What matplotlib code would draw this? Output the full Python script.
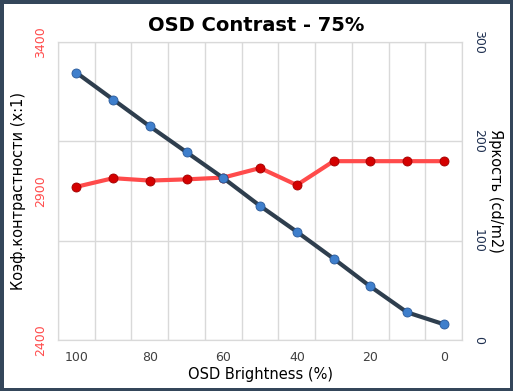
import numpy as np
import matplotlib
matplotlib.use("Agg")
import matplotlib.pyplot as plt

# OSD brightness settings (x axis, categories)
brightness_pct = ["100", "90", "80", "70", "60", "50", "40", "30", "20", "10", "0"]
# contrast ratio, left axis
contrast = [2914, 2943, 2935, 2939, 2945, 2977, 2920, 3000, 3000, 3000, 3000]
# luminance cd/m2, right axis
luminance = [269, 242, 215, 189, 163, 135, 109, 82, 54, 28, 16]

plt.rcParams['font.family'] = ['DejaVu Sans']

fig = plt.figure(figsize=(5.13, 3.91), dpi=100, linewidth=5, edgecolor='#34465a')
ax = fig.add_axes([0.113, 0.130, 0.788, 0.763])
ax2 = ax.twinx()

x = np.arange(len(brightness_pct))

ax.plot(x, contrast, color='#ff4b4b', lw=3, marker='o', ms=6.5,
        mfc='#d40000', mec='#a00000', mew=0.6, zorder=3)
ax2.plot(x, luminance, color='#2e3e4e', lw=3, marker='o', ms=6.5,
         mfc='#3f7fcc', mec='#2a5a9a', mew=0.6, zorder=3)

ax.set_xlim(-0.5, len(x) - 0.5)
ax.set_ylim(2400, 3400)
ax2.set_ylim(0, 300)

ax.set_yticks([2400, 2900, 3400])
ax2.set_yticks([0, 100, 200, 300])
ax.set_xticks(x[::2])
ax.set_xticklabels(brightness_pct[::2])
ax.set_xticks(np.arange(-0.5, len(x)), minor=True)

ax.grid(False)
ax.xaxis.grid(True, which='minor', color='#d9d9d9', lw=1)
ax2.yaxis.grid(True, color='#d9d9d9', lw=1)
ax2.set_axisbelow(True)
ax.set_zorder(0)
ax2.set_zorder(1)

for a in (ax, ax2):
    for s in a.spines.values():
        s.set_color('#d9d9d9')
    a.tick_params(length=0, which='both')

ax.tick_params(axis='y', colors='#ff4b4b', labelsize=9, pad=8)
for lab in ax.get_yticklabels():
    lab.set_rotation(90)
    lab.set_va('center')
ax2.tick_params(axis='y', colors='#1f3050', labelsize=9, pad=7)
for lab in ax2.get_yticklabels():
    lab.set_rotation(270)
    lab.set_va('center')
ax.tick_params(axis='x', colors='#404040', labelsize=9, pad=8)

ax.set_xlabel('OSD Brightness (%)', fontsize=10.5, labelpad=2)
ax.set_ylabel('Коэф.контрастности (x:1)', fontsize=10.5, labelpad=6)
ax2.set_ylabel('Яркость (cd/m2)', fontsize=10.5, rotation=270, labelpad=13)
fig.suptitle('OSD Contrast - 75%', fontsize=14, fontweight='bold', y=0.958)

fig.savefig('out.png', dpi=100, edgecolor=fig.get_edgecolor())
